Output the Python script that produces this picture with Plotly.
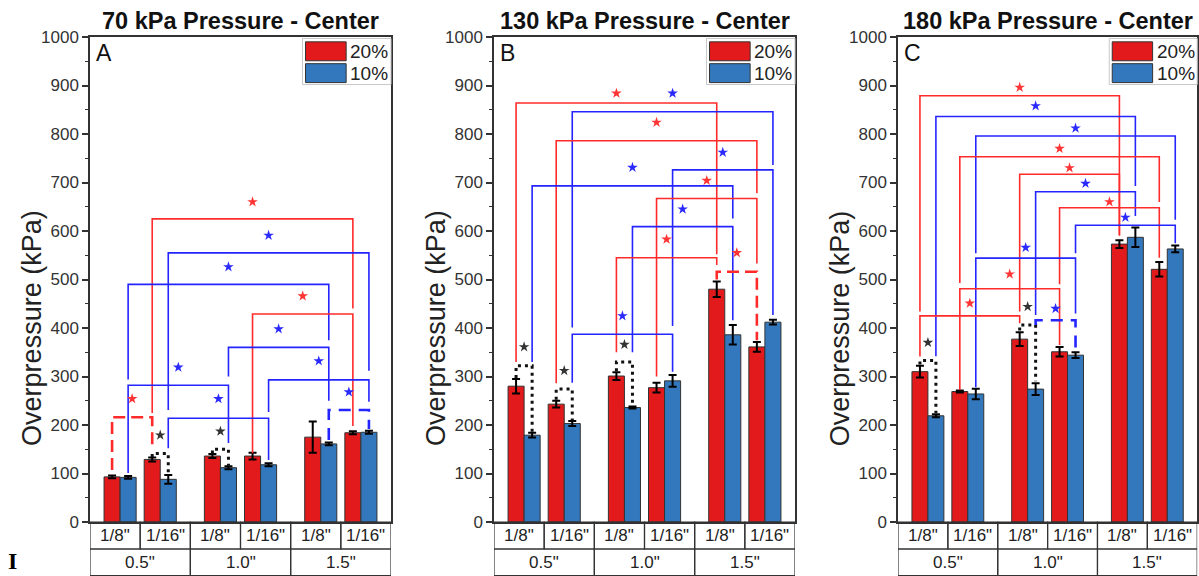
import plotly.graph_objects as go

# ---------------- data ----------------
groups = ['0.5"', '1.0"', '1.5"']
sizes = ['1/8"', '1/16"']
pos = [1, 2, 3.5, 4.5, 6, 7]          # pair centres (1/8", 1/16" for each group)
series = ["20%", "10%"]
panel_titles = ["70 kPa Pressure - Center", "130 kPa Pressure - Center", "180 kPa Pressure - Center"]
panel_letters = ["A", "B", "C"]

red_A = [93, 129, 136, 136, 175, 184]
red_A_err = [3, 4, 4, 7, 32, 3]
blue_A = [92, 88, 112, 118, 161, 185]
blue_A_err = [3, 9, 3, 3, 3, 3]

red_B = [280, 243, 301, 277, 480, 361]
red_B_err = [15, 7, 8, 10, 16, 10]
blue_B = [179, 203, 236, 291, 386, 412]
blue_B_err = [5, 5, 2, 12, 20, 5]

red_C = [310, 269, 377, 351, 573, 521]
red_C_err = [12, 2, 14, 10, 8, 15]
blue_C = [219, 264, 274, 344, 587, 563]
blue_C_err = [3, 11, 12, 6, 20, 7]

# significance brackets: (bar a, bar b, top, leg a bottom, leg b bottom, style, star level)
brackets_A = [
    ("r1", "r5", 625, 225, 440, "red", 660),
    ("b1", "b5", 555, 231, 312, "blue", 591),
    ("b0", "b4", 490, 294, 375, "blue", 526),
    ("r3", "r5", 429, 142, 198, "red", 466),
    ("b2", "b4", 360, 300, 250, "blue", 398),
    ("b3", "b5", 293, 227, 248, "blue", 332),
    ("b0", "b2", 282, 101, 163, "blue", 319),
    ("b4", "b5", 231, 169, 192, "blue_dash", 268),
    ("b1", "b3", 214, 152, 128, "blue", 254),
    ("r0", "r1", 216, 107, 148, "red_dash", 254),
    ("r1", "b1", 141, 134, 97, "dot", 179),
    ("r2", "b2", 150, 141, 116, "dot", 187),
]
brackets_B = [
    ("r0", "r4", 864, 330, 552, "red", 884),
    ("b1", "b5", 846, 401, 736, "blue", 884),
    ("r1", "r5", 786, 286, 678, "red", 824),
    ("b3", "b5", 726, 404, 427, "blue", 762),
    ("b0", "b4", 693, 330, 626, "blue", 731),
    ("r3", "r5", 667, 300, 533, "red", 704),
    ("b2", "b4", 609, 350, 416, "blue", 645),
    ("r2", "r4", 545, 350, 530, "red", 583),
    ("r4", "r5", 516, 500, 375, "red_dash", 555),
    ("b1", "b3", 387, 287, 310, "blue", 425),
    ("r0", "b0", 322, 297, 186, "dot", 361),
    ("r1", "b1", 274, 252, 210, "dot", 312),
    ("r2", "b2", 330, 311, 240, "dot", 366),
]
brackets_C = [
    ("r0", "r4", 879, 434, 592, "red", 896),
    ("b0", "b4", 836, 342, 693, "blue", 858),
    ("b1", "b5", 796, 554, 623, "blue", 812),
    ("r1", "r5", 753, 493, 660, "red", 770),
    ("r2", "r4", 717, 434, 590, "red", 730),
    ("b2", "b4", 681, 427, 631, "blue", 698),
    ("r3", "r5", 648, 490, 545, "red", 660),
    ("b3", "b5", 612, 554, 575, "blue", 628),
    ("b1", "b3", 544, 278, 430, "blue", 566),
    ("r1", "r3", 481, 272, 365, "red", 511),
    ("r0", "r2", 425, 341, 410, "red", 451),
    ("r0", "b0", 333, 325, 225, "dot", 370),
    ("r2", "b2", 406, 395, 290, "dot", 444),
    ("b2", "b3", 416, 406, 355, "blue_dash", 440),
]

panels = [
    (red_A, red_A_err, blue_A, blue_A_err, brackets_A),
    (red_B, red_B_err, blue_B, blue_B_err, brackets_B),
    (red_C, red_C_err, blue_C, blue_C_err, brackets_C),
]

# ---------------- style ----------------
W, H = 1199, 576
MT = 37
MB = 54
PLOT_H = H - MT - MB
lefts_px = [90, 494, 898]
panel_w_px = 301
BAR_W = 0.4
XR = [0.25, 7.75]
RED = "#E31A1C"
BLUE = "#3378BC"
AX = "#333333"
FONT = "Arial, Liberation Sans, sans-serif"
styles = {
    "red": dict(color="#ff2b2b", width=1.6, dash="solid"),
    "blue": dict(color="#2424ff", width=1.6, dash="solid"),
    "red_dash": dict(color="#ff2b2b", width=2.6, dash="12px,6px"),
    "blue_dash": dict(color="#2424ff", width=2.6, dash="12px,8px"),
    "dot": dict(color="#111111", width=3, dash="3px,4px"),
}
star_col = {"red": "#ff3535", "red_dash": "#ff3535", "blue": "#2a2aff",
            "blue_dash": "#2a2aff", "dot": "#333333"}


def bar_x(ref):
    i = int(ref[1:])
    return pos[i] + (-BAR_W / 2 if ref[0] == "r" else BAR_W / 2)


fig = go.Figure()
shapes = []
annotations = []
layout = {}

for p, (rv, re_, bv, be, brs) in enumerate(panels):
    n = "" if p == 0 else str(p + 1)
    xa, ya = "x" + n, "y" + n
    for vals, errs, col in ((rv, re_, RED), (bv, be, BLUE)):
        off = -BAR_W / 2 if col == RED else BAR_W / 2
        fig.add_trace(go.Bar(
            x=[q + off for q in pos], y=vals, width=BAR_W,
            marker=dict(color=col, line=dict(color=AX, width=1)),
            error_y=dict(type="data", array=errs, color="black", thickness=2, width=4),
            xaxis=xa, yaxis=ya, showlegend=False, hoverinfo="skip"))
    sx, sy, sc = [], [], []
    for a, b, top, ba, bb, st, sl in brs:
        x1, x2 = bar_x(a), bar_x(b)
        fig.add_trace(go.Scatter(
            x=[x1, x1, x2, x2], y=[ba, top, top, bb], mode="lines",
            line=styles[st], xaxis=xa, yaxis=ya, showlegend=False, hoverinfo="skip"))
        sx.append((x1 + x2) / 2)
        sy.append(sl)
        sc.append(star_col[st])
    fig.add_trace(go.Scatter(
        x=sx, y=sy, mode="markers",
        marker=dict(symbol="star", size=8, color=sc, line=dict(width=0)),
        xaxis=xa, yaxis=ya, showlegend=False, hoverinfo="skip"))

    l = lefts_px[p]
    layout["xaxis" + n] = dict(
        domain=[l / W, min((l + panel_w_px) / W, 0.9985)], range=XR,
        showline=True, mirror=True, linecolor=AX, linewidth=1.5,
        showticklabels=False, ticks="", showgrid=False, zeroline=False, anchor=ya)
    layout["yaxis" + n] = dict(
        domain=[0, 1], range=[0, 1000], dtick=100, ticks="outside", ticklen=6,
        tickwidth=1.5, tickcolor=AX,
        minor=dict(ticks="outside", ticklen=3, dtick=50, tickcolor=AX, tickwidth=1.2),
        showline=True, mirror=True, linecolor=AX, linewidth=1.5,
        showgrid=False, zeroline=False,
        tickfont=dict(size=17, color=AX, family=FONT), anchor=xa)

    # category boxes under the axis
    r1b = -27 / PLOT_H
    r2b = -53.5 / PLOT_H
    nsub = len(groups) * len(sizes)
    step = (XR[1] - XR[0]) / nsub
    for k in range(nsub):
        x0 = XR[0] + k * step
        shapes.append(dict(type="rect", xref=xa, yref="paper", x0=x0, x1=x0 + step,
                           y0=r1b, y1=0, line=dict(color=AX, width=1.2)))
        annotations.append(dict(xref=xa, yref="paper", x=x0 + step / 2, y=r1b / 2,
                                text=sizes[k % len(sizes)], showarrow=False,
                                xanchor="center", yanchor="middle",
                                font=dict(size=17, color="#222", family=FONT)))
    gstep = (XR[1] - XR[0]) / len(groups)
    for g in range(len(groups)):
        x0 = XR[0] + g * gstep
        shapes.append(dict(type="rect", xref=xa, yref="paper", x0=x0, x1=x0 + gstep,
                           y0=r2b, y1=r1b, line=dict(color=AX, width=1.2)))
        annotations.append(dict(xref=xa, yref="paper", x=x0 + gstep / 2, y=(r1b + r2b) / 2,
                                text=groups[g], showarrow=False,
                                xanchor="center", yanchor="middle",
                                font=dict(size=17, color="#222", family=FONT)))

    # custom legend
    xd, yd = xa + " domain", ya + " domain"
    shapes.append(dict(type="rect", xref=xd, yref=yd, x0=0.706, x1=1.0, y0=0.902, y1=0.997,
                       line=dict(color="#c8c8c8", width=1), fillcolor="white", layer="above"))
    for j, (lab, col) in enumerate(zip(series, (RED, BLUE))):
        y_hi = 0.990 - j * 0.045
        shapes.append(dict(type="rect", xref=xd, yref=yd, x0=0.716, x1=0.851,
                           y0=y_hi - 0.039, y1=y_hi, fillcolor=col,
                           line=dict(color=AX, width=1), layer="above"))
        annotations.append(dict(xref=xd, yref=yd, x=0.858, y=y_hi - 0.0195, text=lab,
                                xanchor="left", yanchor="middle", showarrow=False,
                                font=dict(size=19, color="#222", family=FONT)))
    # panel letter
    annotations.append(dict(xref=xd, yref=yd, x=0.012, y=0.998, text=panel_letters[p],
                            xanchor="left", yanchor="top", showarrow=False,
                            font=dict(size=23, color="#111", family=FONT)))
    # panel title
    annotations.append(dict(xref=xd, yref=yd, x=0.5, y=1.0, yshift=1,
                            text="<b>" + panel_titles[p] + "</b>",
                            xanchor="center", yanchor="bottom", showarrow=False,
                            font=dict(size=23.5, color="#111", family=FONT)))
    # y axis title
    annotations.append(dict(xref=xd, yref=yd, x=-0.193, y=0.40, text="Overpressure (kPa)",
                            textangle=-90, xanchor="center", yanchor="middle", showarrow=False,
                            font=dict(size=27, color="#222", family=FONT)))

annotations.append(dict(xref="paper", yref="paper", x=12 / W, y=-54 / PLOT_H, text="<b>I</b>",
                        xanchor="center", yanchor="bottom", showarrow=False,
                        font=dict(size=24, color="black", family="Liberation Serif, serif")))

fig.update_layout(
    width=W, height=H, margin=dict(l=0, r=0, t=MT, b=MB),
    paper_bgcolor="white", plot_bgcolor="white", barmode="overlay",
    shapes=shapes, annotations=annotations, showlegend=False, **layout)

fig.write_html("out.html", config={"displayModeBar": False},
               post_script="document.body.style.margin='0';document.body.style.overflow='hidden';")
